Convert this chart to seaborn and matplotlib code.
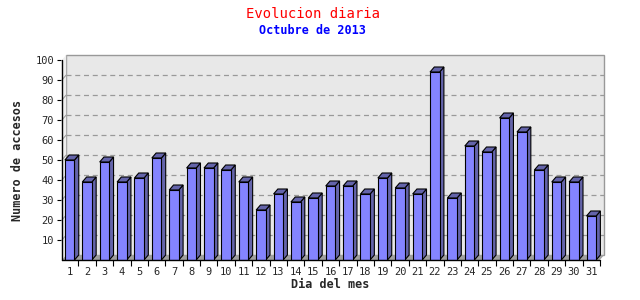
import numpy as np
import pandas as pd
import matplotlib
matplotlib.use("Agg")
import matplotlib.pyplot as plt
import matplotlib.transforms as mtransforms
from matplotlib.patches import Polygon, Rectangle
import seaborn as sns

days = [str(d) for d in range(1, 32)]
accesos = [50, 39, 49, 39, 41, 51, 35, 46, 46, 45, 39, 25, 33, 29, 31, 37,
           37, 33, 41, 36, 33, 94, 31, 57, 54, 71, 64, 45, 39, 39, 22]
yticks = [10, 20, 30, 40, 50, 60, 70, 80, 90, 100]

title = "Evolucion diaria"
subtitle = "Octubre de 2013"
xlabel = "Dia del mes"
ylabel = "Numero de accesos"

sns.set_theme(style="white")
plt.rcParams['font.family'] = ['DejaVu Sans Mono', 'DejaVu Sans']

df = pd.DataFrame({"dia": days, "accesos": accesos})

fig = plt.figure(figsize=(6.4, 3.0), dpi=100)
W, H = 640, 300
ax = fig.add_axes([61 / W, 40 / H, 539 / W, 200 / H])
ax.set_xlim(-0.448, 30.49)
ax.set_ylim(0, 100)

# depth offset in pixels
DX, DY = 4.3, 5.0
px_x = 539 / (30.49 + 0.448)
px_y = 200 / 100
dxu, dyu = DX / px_x, DY / px_y
back = ax.transData + mtransforms.ScaledTranslation(DX / 100, DY / 100, fig.dpi_scale_trans)

ax.set_facecolor("white")
for s in ax.spines.values():
    s.set_visible(False)

# back plane
ax.add_patch(Rectangle((-0.448, 0), 30.49 + 0.448, 100, transform=back,
                       facecolor="#e8e8e8", edgecolor="#999999", lw=1.0,
                       clip_on=False, zorder=0))
# left wall
ax.add_patch(Polygon([(-0.448, 0), (-0.448, 100), (-0.448 + dxu, 100 + dyu), (-0.448 + dxu, dyu)],
                     closed=True, facecolor="#efefef", edgecolor="none", clip_on=False, zorder=0.5))
# floor
ax.add_patch(Polygon([(-0.448, 0), (30.49, 0), (30.49 + dxu, dyu), (-0.448 + dxu, dyu)],
                     closed=True, facecolor="#a0a0a0", edgecolor="none", clip_on=False, zorder=0.6))
# grid lines on back plane
for v in yticks[:-1]:
    ax.plot([-0.448, 30.49], [v, v], transform=back, color="#999999", lw=0.9,
            ls=(0, (4, 3)), zorder=0.4, clip_on=False)
    ax.plot([-0.448, -0.448 + dxu], [v, v + dyu], color="#999999", lw=0.7, zorder=0.7, clip_on=False)

sns.barplot(data=df, x="dia", y="accesos", ax=ax, width=0.55, color="#8484ff",
            saturation=1, edgecolor="black", linewidth=0.8, zorder=3)

for p in list(ax.patches):
    if not isinstance(p, Rectangle) or p.get_zorder() != 3:
        continue
    x0 = p.get_x()
    w, h = p.get_width(), p.get_height()
    x1 = x0 + w
    side = Polygon([(x1, 0), (x1, h), (x1 + dxu, h + dyu), (x1 + dxu, dyu)], closed=True,
                   facecolor="#6464aa", edgecolor="black", lw=0.8, zorder=2.9, clip_on=False)
    top = Polygon([(x0, h), (x1, h), (x1 + dxu, h + dyu), (x0 + dxu, h + dyu)], closed=True,
                  facecolor="#6464aa", edgecolor="black", lw=0.8, zorder=2.9, clip_on=False)
    ax.add_patch(side)
    ax.add_patch(top)

# axes lines
ax.plot([-0.448, -0.448], [0, 100], color="black", lw=1.0, clip_on=False, zorder=5)
ax.plot([-0.448, 30.49], [0, 0], color="black", lw=1.0, clip_on=False, zorder=5)

ax.set_yticks(yticks)
ax.set_yticklabels([str(v) for v in yticks], fontsize=7.5)
ax.set_xticks(range(len(days)))
ax.set_xticklabels(days, fontsize=7.5)
ax.set_xticks(np.arange(len(days)) + 0.5, minor=True)
ax.tick_params(axis="x", which="major", length=0, pad=5)
ax.tick_params(axis="x", which="minor", length=4, width=0.8, color="black", direction="out", bottom=True)
ax.tick_params(axis="y", which="major", length=3, width=0.8, color="black", direction="out", left=True, pad=2)
ax.grid(False)

ax.set_xlabel(xlabel, fontsize=8.5, fontweight="bold", labelpad=1)
ax.set_ylabel(ylabel, fontsize=8.5, fontweight="bold", labelpad=8)

fig.text(313 / W, 1 - 14 / H, title, color="red", fontsize=10, ha="center", va="center")
fig.text(312 / W, 1 - 31 / H, subtitle, color="blue", fontsize=8.5, fontweight="bold",
         ha="center", va="center")

fig.savefig("out.png", dpi=100)
